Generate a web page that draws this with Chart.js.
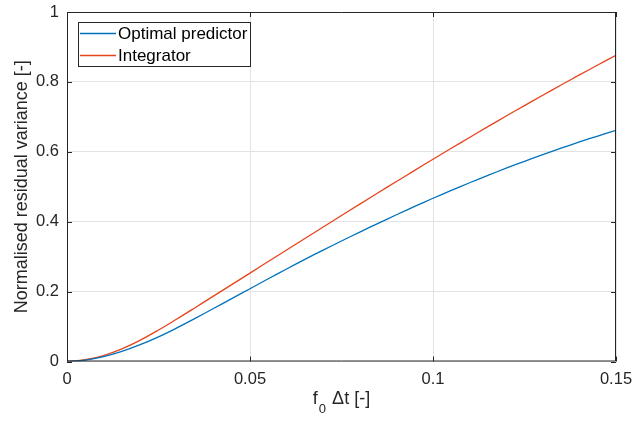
<!DOCTYPE html>
<html><head><meta charset="utf-8">
<script src="https://cdn.jsdelivr.net/npm/chart.js@4"></script>
<style>html,body{margin:0;padding:0;background:#fff}#wrap{width:633px;height:421px}</style>
</head><body><div id="wrap"><canvas id="c" width="633" height="421"></canvas></div>
<script>
const xValues = [0,0.005,0.01,0.015,0.02,0.025,0.03,0.035,0.04,0.045,0.05,0.055,0.06,0.065,0.07,0.075,0.08,0.085,0.09,0.095,0.1,0.105,0.11,0.115,0.12,0.125,0.13,0.135,0.14,0.145,0.15];
const optimalPredictor = [0,0.004,0.014,0.029,0.048,0.0705,0.096,0.1235,0.1515,0.1798,0.2083,0.2368,0.2648,0.2923,0.3189,0.3448,0.3703,0.3953,0.4198,0.4438,0.4671,0.4896,0.5114,0.5326,0.5531,0.5729,0.5920,0.6104,0.6281,0.6451,0.6613];
const integrator = [0,0.005,0.017,0.036,0.061,0.090,0.1215,0.154,0.187,0.220,0.253,0.286,0.319,0.352,0.3849,0.4177,0.4503,0.4827,0.5149,0.5469,0.5786,0.6100,0.6411,0.6719,0.7023,0.7323,0.7619,0.7911,0.8199,0.8483,0.8763];
const xTicks = [0,0.05,0.1,0.15];
const yTicks = [0,0.2,0.4,0.6,0.8,1];
const seriesNames = ['Optimal predictor','Integrator'];
const seriesColors = ['#0072BD','#E8431A'];

const FONT = '"Liberation Sans", Arial, Helvetica, sans-serif';
const AX = '#262626';

const decor = {
  id: 'decor',
  afterDraw(chart) {
    const ctx = chart.ctx, a = chart.chartArea;
    const xs = chart.scales.x, ys = chart.scales.y;
    ctx.save();
    ctx.strokeStyle = AX; ctx.lineWidth = 1;
    ctx.beginPath();
    ctx.rect(a.left + 0.5, a.top + 0.5, a.right - a.left - 1, a.bottom - a.top - 1);
    ctx.stroke();
    const tl = 5;
    ctx.beginPath();
    xTicks.forEach(v => {
      const px = Math.round(xs.getPixelForValue(v)) + 0.5;
      ctx.moveTo(px, a.bottom); ctx.lineTo(px, a.bottom - tl);
      ctx.moveTo(px, a.top); ctx.lineTo(px, a.top + tl);
    });
    yTicks.forEach(v => {
      const py = Math.round(ys.getPixelForValue(v)) + 0.5;
      ctx.moveTo(a.left, py); ctx.lineTo(a.left + tl, py);
      ctx.moveTo(a.right, py); ctx.lineTo(a.right - tl, py);
    });
    ctx.stroke();
    // legend
    const lx = 78, ly = 22, lw = 172, lh = 44;
    ctx.fillStyle = '#fff';
    ctx.fillRect(lx, ly, lw, lh);
    ctx.strokeStyle = AX; ctx.lineWidth = 1;
    ctx.strokeRect(lx + 0.5, ly + 0.5, lw, lh);
    ctx.font = '17px ' + FONT;
    ctx.textBaseline = 'middle';
    ctx.textAlign = 'left';
    seriesNames.forEach((name, i) => {
      const y = ly + 11.5 + i * 22;
      ctx.strokeStyle = seriesColors[i]; ctx.lineWidth = 1.3;
      ctx.beginPath(); ctx.moveTo(lx + 2, y); ctx.lineTo(lx + 38, y); ctx.stroke();
      ctx.fillStyle = '#000';
      ctx.fillText(name, lx + 40, y + 1);
    });
    // y title
    ctx.fillStyle = AX;
    ctx.save();
    ctx.translate(22, (a.top + a.bottom) / 2);
    ctx.rotate(-Math.PI / 2);
    ctx.textAlign = 'center';
    ctx.textBaseline = 'middle';
    ctx.font = '18px ' + FONT;
    ctx.fillText('Normalised residual variance [-]', 0, 0);
    ctx.restore();
    // x title with subscript
    ctx.font = '18px ' + FONT;
    const p1 = 'f', p3 = ' \u0394t [-]';
    const w1 = ctx.measureText(p1).width, w3 = ctx.measureText(p3).width;
    ctx.font = '13px ' + FONT;
    const w2 = ctx.measureText('0').width + 2;
    const total = w1 + w2 + w3;
    let x0 = (a.left + a.right) / 2 - total / 2;
    const base = 404;
    ctx.textAlign = 'left'; ctx.textBaseline = 'alphabetic';
    ctx.font = '18px ' + FONT;
    ctx.fillText(p1, x0, base);
    ctx.font = '13px ' + FONT;
    ctx.fillText('0', x0 + w1 + 1, base + 9);
    ctx.font = '18px ' + FONT;
    ctx.fillText(p3, x0 + w1 + w2, base);
    ctx.restore();
  }
};

new Chart(document.getElementById('c'), {
  type: 'scatter',
  data: {
    datasets: [
      { label: seriesNames[0], data: xValues.map((x, i) => ({ x, y: optimalPredictor[i] })), borderColor: seriesColors[0], backgroundColor: seriesColors[0], showLine: true, pointRadius: 0, borderWidth: 1.3, tension: 0.4 },
      { label: seriesNames[1], data: xValues.map((x, i) => ({ x, y: integrator[i] })), borderColor: seriesColors[1], backgroundColor: seriesColors[1], showLine: true, pointRadius: 0, borderWidth: 1.3, tension: 0.4 }
    ]
  },
  options: {
    responsive: false, animation: false, devicePixelRatio: 1,
    layout: { padding: { left: 0, right: 17, top: 12, bottom: 0 } },
    plugins: { legend: { display: false }, tooltip: { enabled: false } },
    scales: {
      x: {
        type: 'linear', min: 0, max: 0.15,
        afterBuildTicks: s => { s.ticks = xTicks.map(v => ({ value: v })); },
        afterFit: s => { s.height = 59.5; s.paddingLeft = 0; s.paddingRight = 0; },
        grid: { color: '#e3e3e3', drawTicks: false },
        border: { display: false },
        ticks: { color: AX, font: { family: FONT, size: 16.5 }, padding: 8, maxRotation: 0, callback: v => String(v) }
      },
      y: {
        type: 'linear', min: 0, max: 1,
        afterBuildTicks: s => { s.ticks = yTicks.map(v => ({ value: v })); },
        afterFit: s => { s.width = 67; s.paddingTop = 0; s.paddingBottom = 0; },
        grid: { color: '#e3e3e3', drawTicks: false },
        border: { display: false },
        ticks: { color: AX, font: { family: FONT, size: 16.5 }, padding: 8, callback: v => String(v) }
      }
    }
  },
  plugins: [decor]
});
</script></body></html>
